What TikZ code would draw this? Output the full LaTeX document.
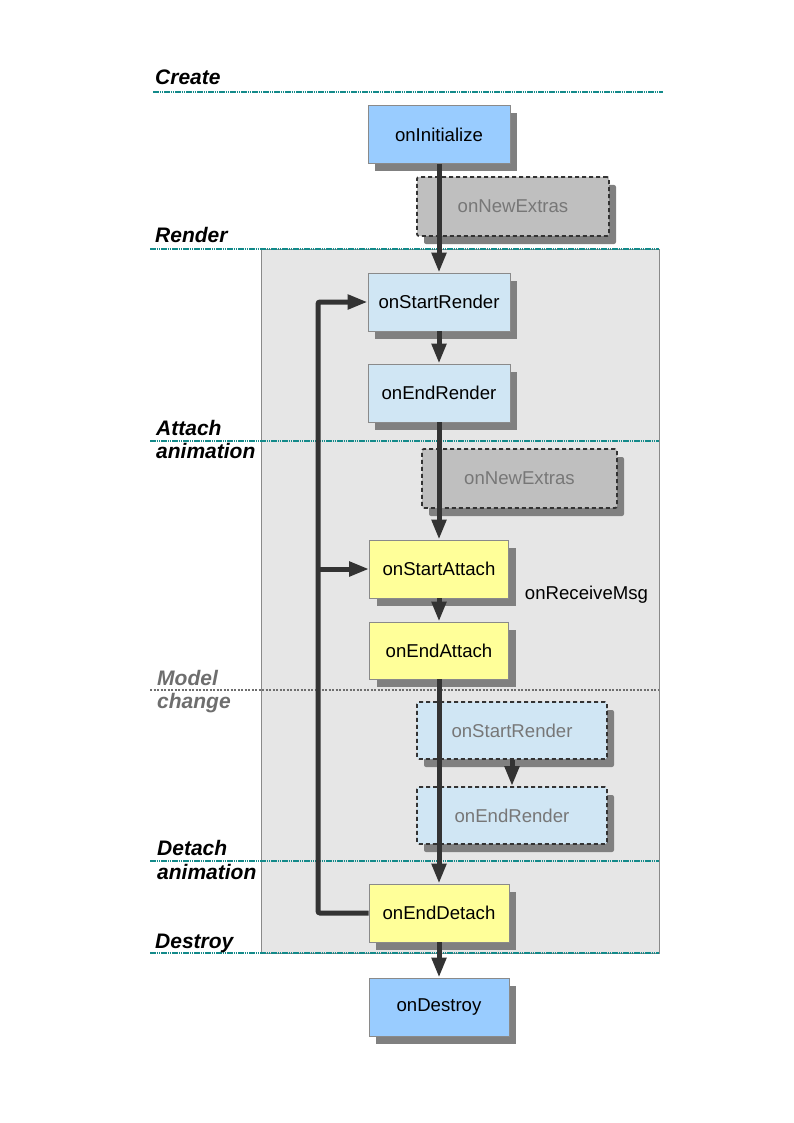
\documentclass[tikz,border=0pt]{standalone}
\usepackage{fontspec}
\setmainfont{Liberation Sans}
\usetikzlibrary{arrows.meta,shadows}
\definecolor{bluebox}{HTML}{99CCFF}
\definecolor{lightblue}{HTML}{D0E6F4}
\definecolor{yellowbox}{HTML}{FFFF99}
\definecolor{graybox}{HTML}{BFBFBF}
\definecolor{regionc}{HTML}{E6E6E6}
\definecolor{boxborder}{HTML}{8A8A8A}
\definecolor{shadowgray}{HTML}{808080}
\definecolor{dashdark}{HTML}{333333}
\definecolor{txtgray}{HTML}{777777}
\definecolor{lanec}{HTML}{138A8A}
\definecolor{flowc}{HTML}{333333}
\definecolor{modelc}{HTML}{6E6E6E}
\begin{document}
\begin{tikzpicture}[x=1pt,y=-1pt,
  box/.style={draw=boxborder, line width=0.8pt, minimum width=142pt, minimum height=58pt,
    inner sep=0pt, font=\fontsize{18.6}{22}\selectfont,
    drop shadow={shadow xshift=7pt,shadow yshift=-8pt,fill=shadowgray,opacity=1}},
  dbox/.style={box, draw=dashdark, line width=1.8pt, dash pattern=on 4pt off 3pt,
    text=txtgray, rounded corners=2pt, minimum height=57pt},
  lane/.style={line width=2pt, draw=lanec, dash pattern=on 1.5pt off 0.7pt},
  flow/.style={line width=5pt, draw=flowc, -{Triangle[length=20pt,width=14pt]}},
  lbl/.style={font=\fontsize{21}{24}\selectfont\bfseries\itshape, anchor=base west, inner sep=0pt}]
\useasboundingbox (0,0) rectangle (794,1123);

% grey region
\draw[fill=regionc, draw=boxborder, line width=0.8pt] (261,249) rectangle (659,953);

% lane lines
\draw[lane] (153,92) -- (663,92);
\draw[lane] (150,249) -- (659,249);
\draw[lane] (150,441) -- (659,441);
\draw[line width=1.5pt, draw=modelc, dash pattern=on 2pt off 1.5pt] (150,690) -- (659,690);
\draw[lane] (150,861) -- (659,861);
\draw[lane] (150,953) -- (659,953);

% lane labels
\node[lbl] (lcreate) at (155,85) {Create};
\node[lbl] (lrender) at (155,242) {Render};
\node[lbl] (lattach1) at (156,435) {Attach};
\node[lbl] (lattach2) at (156,458) {animation};
\node[lbl, text=modelc] (lmodel1) at (157,685) {Model};
\node[lbl, text=modelc] (lmodel2) at (157,708) {change};
\node[lbl] (ldetach1) at (157,855) {Detach};
\node[lbl] (ldetach2) at (157,879) {animation};
\node[lbl] (ldestroy) at (155,948) {Destroy};

% nodes
\node[box, fill=bluebox] (init) at (439,134.5) {onInitialize};
\node[dbox, fill=graybox, minimum width=192pt, minimum height=59pt] (ne1) at (513,206.5) {onNewExtras};
\node[box, fill=lightblue] (sr) at (439,302) {onStartRender};
\node[box, fill=lightblue] (er) at (439,393) {onEndRender};
\node[dbox, fill=graybox, minimum width=195pt, minimum height=59pt] (ne2) at (519.5,478.5) {onNewExtras};
\node[box, fill=yellowbox, minimum width=139pt] (sa) at (439,569) {onStartAttach};
\node[box, fill=yellowbox, minimum width=139pt, minimum height=57pt] (ea) at (439,650.5) {onEndAttach};
\node[dbox, fill=lightblue, minimum width=190pt] (sr2) at (512,730.5) {onStartRender};
\node[dbox, fill=lightblue, minimum width=190pt] (er2) at (512,815.5) {onEndRender};
\node[box, fill=yellowbox, minimum width=140pt] (ed) at (439,913) {onEndDetach};
\node[box, fill=bluebox, minimum width=140pt] (ds) at (439,1007) {onDestroy};
\node[font=\fontsize{18.6}{22}\selectfont, inner sep=0pt] (rm) at (586.5,595) {onReceiveMsg};

% connectors
\draw[flow] (init) -- (sr);
\draw[flow] (sr) -- (er);
\draw[flow] (er) -- (sa);
\draw[flow] (sa) -- (ea);
\draw[flow] (ea) -- (ed);
\draw[flow] (ed) -- (ds);
\draw[flow] (sr2) -- (er2);
\coordinate (lp) at (318,569);
\draw[flow, rounded corners=2pt] (ed.west) -| (lp) |- (sr.west);
\draw[flow] (lp) -- (sa.west);
\end{tikzpicture}
\end{document}
